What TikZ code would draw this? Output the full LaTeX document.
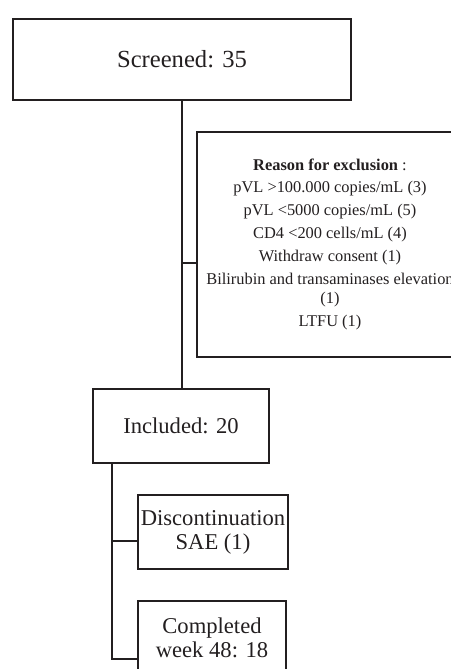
\documentclass[tikz,border=0pt]{standalone}
\usepackage{fontspec}
\setmainfont{Liberation Serif}
\usepackage{tikz}
\definecolor{ink}{HTML}{231F20}

\begin{document}
\begin{tikzpicture}[x=0.5pt,y=-0.5pt,line width=0.8pt,draw=ink,text=ink,
	block/.style ={rectangle, draw=ink, align=center, inner sep=0pt, font=\fontsize{11.3}{12}\selectfont}]
		\useasboundingbox (0,0) rectangle (450,669);
		\node[block,minimum width=169pt,minimum height=40.5pt,font=\fontsize{12.3}{14}\selectfont] (scr) at (182,59.5) {Screened: 35};
		\node[block,minimum width=133pt,minimum height=112.5pt,font=\fontsize{8.2}{9.5}\selectfont] (excl) at (330,244.5)
			{\textbf{Reason for exclusion} :\\[1.5pt]
			pVL >100.000 copies/mL (3)\\[2pt]
			pVL <5000 copies/mL (5)\\[2pt]
			CD4 <200 cells/mL (4)\\[2pt]
			Withdraw consent (1)\\[2pt]
			Bilirubin and transaminases elevation\\(1)\\[2pt]
			LTFU (1)};
		\node[block,minimum width=88pt,minimum height=37pt] (incl) at (181,426) {Included: 20};
		\node[block,minimum width=75pt,minimum height=37pt] (disc) at (213,532) {Discontinuation\\SAE (1)};
		\node[block,minimum width=74pt,minimum height=37pt] (comp) at (212,638) {Completed\\week 48: 18};
		\coordinate (b1) at (182,263);
		\coordinate (b2) at (112,541);
		\coordinate (b3) at (112,659);
		\draw (scr.south) -- (scr.south |- incl.north);
		\draw (b1) -- (b1 -| excl.west);
		\draw (incl.south -| b2) -- (b3) -- (b3 -| comp.west);
		\draw (b2) -- (b2 -| disc.west);
	\end{tikzpicture}
\end{document}
